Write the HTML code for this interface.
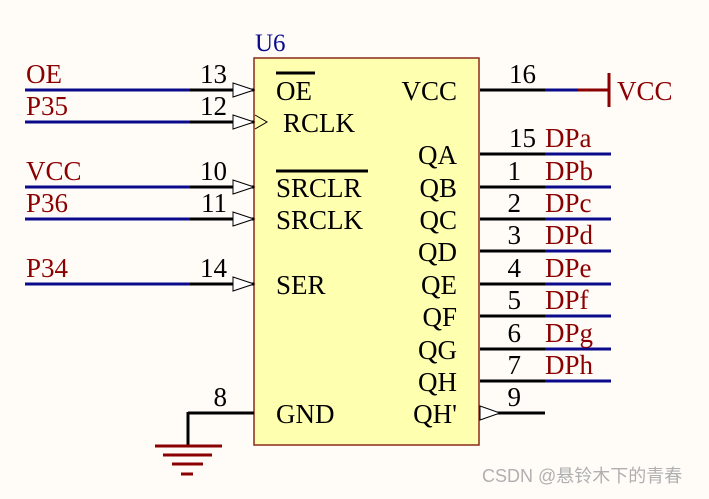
<!DOCTYPE html>
<html><head><style>html,body{margin:0;padding:0;background:#fffcf8}</style></head>
<body>
<svg width="709" height="494" viewBox="0 0 709 494" xmlns="http://www.w3.org/2000/svg" font-family="Liberation Serif, serif" font-size="27">
<rect width="709" height="494" fill="#fffcf8"/>
<rect x="254" y="58" width="225" height="387" fill="#ffffb0" stroke="#8b2a1a" stroke-width="1.5"/>
<text x="255" y="51" fill="#0a0a8a" font-size="25">U6</text>
<g stroke-width="3">
<g stroke="#0a0a8a"><line x1="25" y1="90" x2="190" y2="90"/><line x1="25" y1="122" x2="190" y2="122"/><line x1="25" y1="187" x2="190" y2="187"/><line x1="25" y1="219" x2="190" y2="219"/><line x1="25" y1="284" x2="190" y2="284"/></g>
<g stroke="#000"><line x1="190" y1="90" x2="254" y2="90"/><line x1="190" y1="122" x2="254" y2="122"/><line x1="190" y1="187" x2="254" y2="187"/><line x1="190" y1="219" x2="254" y2="219"/><line x1="190" y1="284" x2="254" y2="284"/></g>
<g stroke="#000"><line x1="480" y1="90" x2="545" y2="90"/><line x1="480" y1="154" x2="545" y2="154"/><line x1="480" y1="187" x2="545" y2="187"/><line x1="480" y1="219" x2="545" y2="219"/><line x1="480" y1="251" x2="545" y2="251"/><line x1="480" y1="284" x2="545" y2="284"/><line x1="480" y1="316" x2="545" y2="316"/><line x1="480" y1="349" x2="545" y2="349"/><line x1="480" y1="381" x2="545" y2="381"/><line x1="495" y1="413" x2="545" y2="413"/><line x1="188" y1="413" x2="254" y2="413"/></g>
<g stroke="#0a0a8a"><line x1="545" y1="90" x2="578" y2="90"/><line x1="545" y1="154" x2="611" y2="154"/><line x1="545" y1="187" x2="611" y2="187"/><line x1="545" y1="219" x2="611" y2="219"/><line x1="545" y1="251" x2="611" y2="251"/><line x1="545" y1="284" x2="611" y2="284"/><line x1="545" y1="316" x2="611" y2="316"/><line x1="545" y1="349" x2="611" y2="349"/><line x1="545" y1="381" x2="611" y2="381"/></g>
<g stroke="#8b0000"><line x1="578" y1="90" x2="609" y2="90"/><line x1="609" y1="73" x2="609" y2="107"/>
<line x1="188" y1="412" x2="188" y2="447" stroke="#000"/>
<line x1="155" y1="446" x2="222" y2="446"/><line x1="163" y1="455" x2="212" y2="455"/><line x1="172" y1="464" x2="203" y2="464"/><line x1="181" y1="474" x2="193" y2="474"/></g>
<g stroke="#000"><line x1="276" y1="73" x2="315" y2="73"/><line x1="276" y1="171" x2="368" y2="171"/></g>
</g>
<g fill="#fff" stroke="#000" stroke-width="1">
<polygon points="233,83 254,90 233,97"/><polygon points="233,115 254,122 233,129"/><polygon points="233,180 254,187 233,194"/><polygon points="233,212 254,219 233,226"/><polygon points="233,277 254,284 233,291"/>
<polygon points="480,406 500,413 480,420"/>
</g>
<polyline points="255,115 267,122 255,129" fill="none" stroke="#000" stroke-width="1"/>
<g fill="#8b0000">
<text x="26" y="83">OE</text><text x="26" y="115">P35</text><text x="26" y="180">VCC</text><text x="26" y="212">P36</text><text x="26" y="277">P34</text>
<text x="617" y="100">VCC</text>
<text x="545" y="147">DPa</text><text x="545" y="180">DPb</text><text x="545" y="212">DPc</text><text x="545" y="244">DPd</text><text x="545" y="277">DPe</text><text x="545" y="309">DPf</text><text x="545" y="342">DPg</text><text x="545" y="374">DPh</text>
</g>
<g fill="#000">
<g text-anchor="end"><text x="227" y="83">13</text><text x="227" y="115">12</text><text x="227" y="180">10</text><text x="227" y="212">11</text><text x="227" y="277">14</text><text x="227" y="406">8</text>
<text x="536" y="83">16</text><text x="536" y="147">15</text><text x="521" y="180">1</text><text x="521" y="212">2</text><text x="521" y="244">3</text><text x="521" y="277">4</text><text x="521" y="309">5</text><text x="521" y="342">6</text><text x="521" y="374">7</text><text x="521" y="406">9</text>
<text x="457" y="100">VCC</text><text x="457" y="164">QA</text><text x="457" y="197">QB</text><text x="457" y="229">QC</text><text x="457" y="261">QD</text><text x="457" y="294">QE</text><text x="457" y="326">QF</text><text x="457" y="359">QG</text><text x="457" y="391">QH</text><text x="457" y="423">QH'</text></g>
<text x="276" y="100">OE</text><text x="283" y="132">RCLK</text><text x="276" y="197">SRCLR</text><text x="276" y="229">SRCLK</text><text x="276" y="294">SER</text><text x="276" y="423">GND</text>
</g>
<text x="482" y="482" font-family="Liberation Sans, Noto Sans CJK SC, sans-serif" font-size="18" fill="#b0b0b0">CSDN @悬铃木下的青春</text>
</svg>
</body></html>
